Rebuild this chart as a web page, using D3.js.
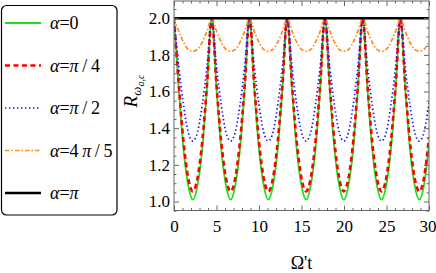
<!DOCTYPE html>
<html>
<head>
<meta charset="utf-8">
<script src="https://cdn.jsdelivr.net/npm/d3@7"></script>
<style>
  body { margin: 0; background: #fff; }
</style>
</head>
<body>
<svg id="chart" width="436" height="273"></svg>
<script>
// Omega't sample points (about 8 per oscillation)
const times = [
  0, 0.555, 1.11, 1.665, 2.22, 2.775, 3.33, 3.885,
  4.44, 4.995, 5.55, 6.105, 6.66, 7.215, 7.77, 8.325,
  8.88, 9.435, 9.99, 10.545, 11.1, 11.655, 12.21, 12.765,
  13.32, 13.875, 14.43, 14.985, 15.54, 16.095, 16.65, 17.205,
  17.76, 18.315, 18.87, 19.425, 19.98, 20.535, 21.09, 21.645,
  22.2, 22.755, 23.31, 23.865, 24.42, 24.975, 25.53, 26.085,
  26.64, 27.195, 27.75, 28.305, 28.86, 29.415, 30
];

// R values
const alpha0 = [
  2.00, 1.62, 1.29, 1.09, 1.01, 1.09, 1.29, 1.62,
  2.00, 1.62, 1.29, 1.09, 1.01, 1.09, 1.29, 1.62,
  2.00, 1.62, 1.29, 1.09, 1.01, 1.09, 1.29, 1.62,
  2.00, 1.62, 1.29, 1.09, 1.01, 1.09, 1.29, 1.62,
  2.00, 1.62, 1.29, 1.09, 1.01, 1.09, 1.29, 1.62,
  2.00, 1.62, 1.29, 1.09, 1.01, 1.09, 1.29, 1.62,
  2.00, 1.62, 1.29, 1.09, 1.01, 1.09, 1.31
];
const alphaQuarter = [
  2.00, 1.64, 1.33, 1.13, 1.055, 1.13, 1.33, 1.64,
  2.00, 1.64, 1.33, 1.13, 1.055, 1.13, 1.33, 1.64,
  2.00, 1.64, 1.33, 1.13, 1.055, 1.13, 1.33, 1.64,
  2.00, 1.64, 1.33, 1.13, 1.055, 1.13, 1.33, 1.64,
  2.00, 1.64, 1.33, 1.13, 1.055, 1.13, 1.33, 1.64,
  2.00, 1.64, 1.33, 1.13, 1.055, 1.13, 1.33, 1.64,
  2.00, 1.64, 1.33, 1.13, 1.055, 1.13, 1.35
];
const alphaHalf = [
  2.00, 1.74, 1.53, 1.38, 1.33, 1.38, 1.53, 1.74,
  2.00, 1.74, 1.53, 1.38, 1.33, 1.38, 1.53, 1.74,
  2.00, 1.74, 1.53, 1.38, 1.33, 1.38, 1.53, 1.74,
  2.00, 1.74, 1.53, 1.38, 1.33, 1.38, 1.53, 1.74,
  2.00, 1.74, 1.53, 1.38, 1.33, 1.38, 1.53, 1.74,
  2.00, 1.74, 1.53, 1.38, 1.33, 1.38, 1.53, 1.74,
  2.00, 1.74, 1.53, 1.38, 1.33, 1.38, 1.54
];
const alphaFourFifths = [
  2.00, 1.93, 1.87, 1.83, 1.82, 1.83, 1.87, 1.93,
  2.00, 1.93, 1.87, 1.83, 1.82, 1.83, 1.87, 1.93,
  2.00, 1.93, 1.87, 1.83, 1.82, 1.83, 1.87, 1.93,
  2.00, 1.93, 1.87, 1.83, 1.82, 1.83, 1.87, 1.93,
  2.00, 1.93, 1.87, 1.83, 1.82, 1.83, 1.87, 1.93,
  2.00, 1.93, 1.87, 1.83, 1.82, 1.83, 1.87, 1.93,
  2.00, 1.93, 1.87, 1.83, 1.82, 1.83, 1.875
];
const alphaPiTimes = [0, 30];
const alphaPi = [2.00, 2.00];

const legendLabels = ["α=0", "α=π\u2009/\u20094", "α=π\u2009/\u20092", "α=4\u2009π\u2009/\u20095", "α=π"];
const xTicks = [0, 5, 10, 15, 20, 25, 30];
const yTicks = [1.0, 1.2, 1.4, 1.6, 1.8, 2.0];

const FONT = "'Liberation Serif'";
const svg = d3.select("#chart");

const x = d3.scaleLinear().domain([0, 30]).range([174, 429]);
const y = d3.scaleLinear().domain([0.951, 2.094]).range([210.5, 1]);

const xMinor = d3.range(0, 31, 1).filter(d => d % 5 !== 0);
const yMinor = d3.range(0.95, 2.1, 0.05).map(d => +d.toFixed(2))
  .filter(d => Math.abs(d * 5 - Math.round(d * 5)) > 1e-6);

// series styles
const series = [
  { t: times, v: alpha0, color: "#1fe01f", width: 1.8, dash: null },
  { t: times, v: alphaQuarter, color: "#ff0000", width: 2.6, dash: "5,3.5" },
  { t: times, v: alphaHalf, color: "#1010ff", width: 1.7, dash: "1.4,2.6" },
  { t: times, v: alphaFourFifths, color: "#ff8c1a", width: 1.7, dash: "4.5,2,1.5,2" },
  { t: alphaPiTimes, v: alphaPi, color: "#000", width: 2.4, dash: null },
];

// clip to the frame
svg.append("clipPath").attr("id", "plotclip")
  .append("rect")
  .attr("x", x(0)).attr("y", y(2.094))
  .attr("width", x(30) - x(0)).attr("height", y(0.951) - y(2.094));

const line = d3.line()
  .x(d => x(d[0]))
  .y(d => y(d[1]))
  .curve(d3.curveMonotoneX);

const curves = svg.append("g").attr("clip-path", "url(#plotclip)");
series.forEach(function (s) {
  curves.append("path")
    .datum(d3.zip(s.t, s.v))
    .attr("fill", "none")
    .attr("stroke", s.color)
    .attr("stroke-width", s.width)
    .attr("stroke-dasharray", s.dash)
    .attr("d", line);
});

// Axes: ticks point inward, labels only on bottom and left
function styleAxis(g) {
  g.select(".domain").remove();
  g.selectAll("line").attr("stroke", "#666");
  g.selectAll("text")
    .style("font-family", FONT)
    .style("font-size", "17px")
    .attr("fill", "#000");
}

svg.append("g").attr("transform", "translate(0," + y(0.951) + ")")
  .call(d3.axisBottom(x).tickValues(xTicks).tickSize(-5).tickPadding(9).tickFormat(d3.format("d")))
  .call(styleAxis)
  .call(g => g.selectAll("text").filter(d => d === 30).attr("dx", -1.5));
svg.append("g").attr("transform", "translate(0," + y(0.951) + ")")
  .call(d3.axisBottom(x).tickValues(xMinor).tickSize(-2.5).tickFormat(""))
  .call(styleAxis);
svg.append("g").attr("transform", "translate(0," + y(2.094) + ")")
  .call(d3.axisTop(x).tickValues(xTicks).tickSize(-5).tickFormat(""))
  .call(styleAxis);
svg.append("g").attr("transform", "translate(0," + y(2.094) + ")")
  .call(d3.axisTop(x).tickValues(xMinor).tickSize(-2.5).tickFormat(""))
  .call(styleAxis);

svg.append("g").attr("transform", "translate(" + x(0) + ",0)")
  .call(d3.axisLeft(y).tickValues(yTicks).tickSize(-5).tickPadding(4).tickFormat(d3.format(".1f")))
  .call(styleAxis);
svg.append("g").attr("transform", "translate(" + x(0) + ",0)")
  .call(d3.axisLeft(y).tickValues(yMinor).tickSize(-2.5).tickFormat(""))
  .call(styleAxis);
svg.append("g").attr("transform", "translate(" + x(30) + ",0)")
  .call(d3.axisRight(y).tickValues(yTicks).tickSize(-5).tickFormat(""))
  .call(styleAxis);
svg.append("g").attr("transform", "translate(" + x(30) + ",0)")
  .call(d3.axisRight(y).tickValues(yMinor).tickSize(-2.5).tickFormat(""))
  .call(styleAxis);

// frame
svg.append("rect")
  .attr("x", x(0)).attr("y", y(2.094))
  .attr("width", x(30) - x(0)).attr("height", y(0.951) - y(2.094))
  .attr("fill", "none")
  .attr("stroke", "#666")
  .attr("stroke-width", 1);

// axis titles
svg.append("text")
  .attr("x", (x(0) + x(30)) / 2)
  .attr("y", 269)
  .attr("text-anchor", "middle")
  .style("font-family", FONT)
  .style("font-size", "18px")
  .text("Ω't");

const ylab = svg.append("text")
  .attr("transform", "translate(137,91) rotate(-90)")
  .style("font-family", FONT)
  .attr("text-anchor", "middle");
ylab.append("tspan").style("font-size", "19px").style("font-style", "italic").text("R");
ylab.append("tspan").style("font-size", "13px").style("font-style", "italic").attr("dy", 4).text("ω");
ylab.append("tspan").style("font-size", "10px").style("font-style", "italic").attr("dy", 3).text("a,c");

// legend
svg.append("rect")
  .attr("x", 1.5).attr("y", 5.5)
  .attr("width", 115.5).attr("height", 209.5)
  .attr("rx", 5)
  .attr("fill", "#fff")
  .attr("stroke", "#000")
  .attr("stroke-width", 1.2);

const legendY = d3.scalePoint().domain(d3.range(series.length)).range([23, 193]);

series.forEach(function (s, i) {
  svg.append("line")
    .attr("x1", 5).attr("x2", 41)
    .attr("y1", legendY(i)).attr("y2", legendY(i))
    .attr("stroke", s.color)
    .attr("stroke-width", s.width)
    .attr("stroke-dasharray", s.dash);
  const t = svg.append("text")
    .attr("x", 50)
    .attr("y", legendY(i) + 6)
    .style("font-family", FONT)
    .style("font-size", "18px");
  Array.from(legendLabels[i]).forEach(function (c) {
    t.append("tspan")
      .style("font-style", /[απ]/.test(c) ? "italic" : "normal")
      .text(c);
  });
});
</script>
</body>
</html>
